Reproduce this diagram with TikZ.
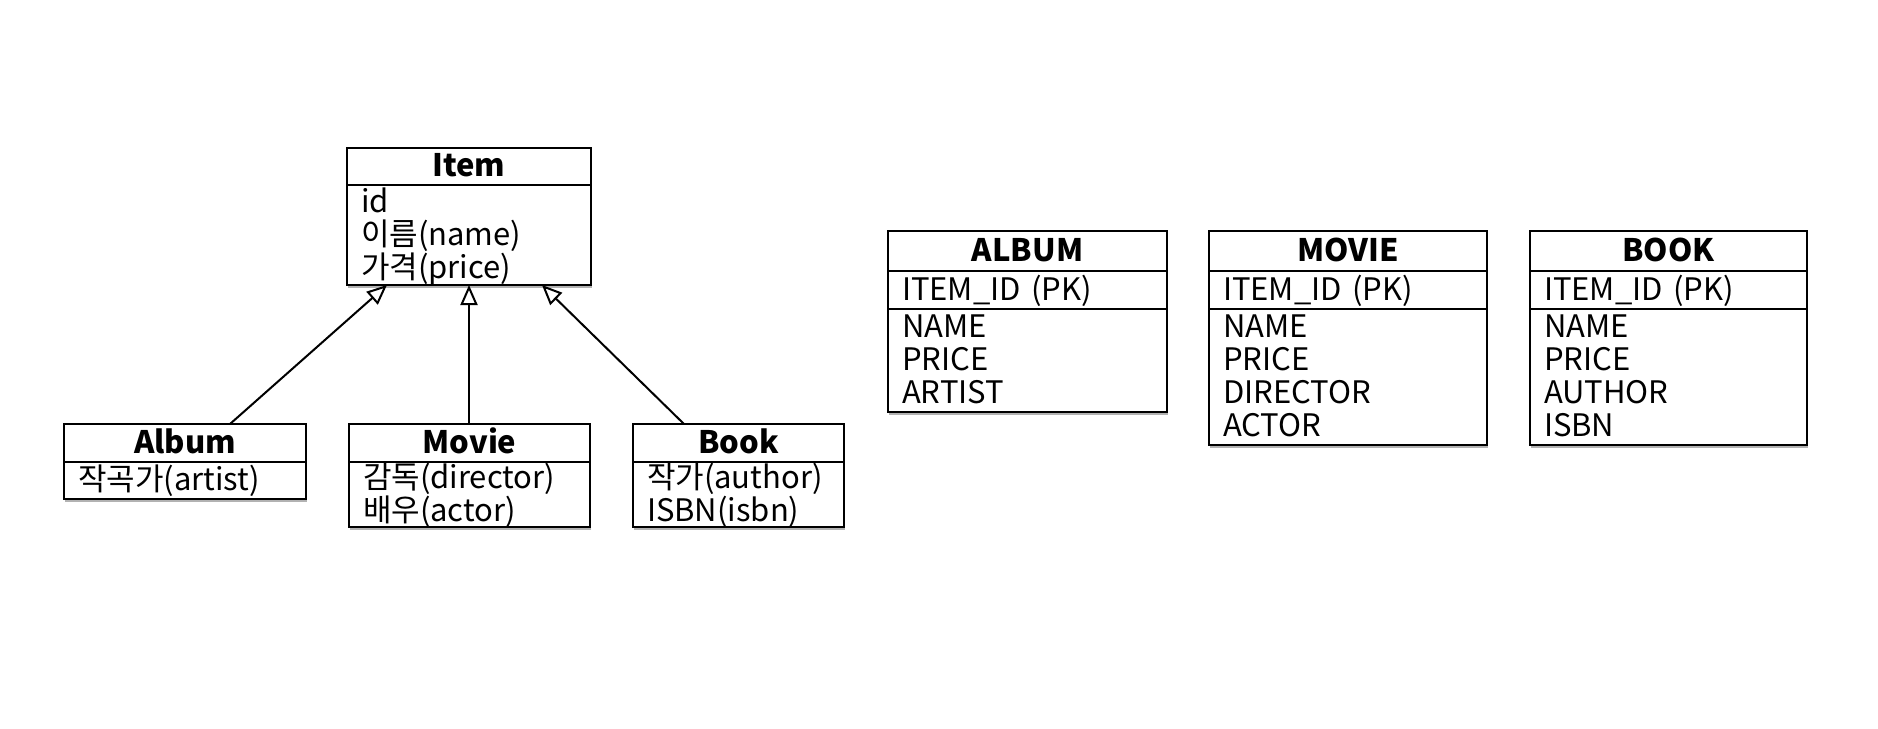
\documentclass[tikz,border=0pt]{standalone}
\usepackage{fontspec}
\setmainfont{Noto Sans CJK KR}
\usetikzlibrary{arrows.meta,shadows}
\newcommand\topst{\rule{0pt}{14.5pt}}
\newcommand\botst{\rule[-4.3pt]{0pt}{4.3pt}}
\tikzset{
  box/.style={draw=black, line width=1.2pt, fill=white, inner xsep=7pt, inner ysep=-3pt, outer sep=0pt,
    anchor=north west, font=\fontsize{15.5}{16.5}\selectfont,
    execute at begin node={\topst}, execute at end node={\botst},
    drop shadow={shadow xshift=0.6pt, shadow yshift=-1.5pt, opacity=0.3, fill=black}},
  hd/.style={box, align=center, font=\bfseries\fontsize{15.5}{16.5}\selectfont},
  bd/.style={box, align=left},
  gen/.style={line width=1pt, -{Triangle[open, fill=white, length=10pt, width=8.5pt]}}
}
\begin{document}
\begin{tikzpicture}[x=0.5pt, y=-0.5pt]
\useasboundingbox (0,0) rectangle (1878,728);
% Item class
\node[hd, text width=108pt, minimum height=18.5pt] (itemT) at (347,148) {Item};
\node[bd, text width=108pt, minimum height=50pt] (itemB) at (itemT.south west) {id\\이름(name)\\가격(price)};
% Album class
\node[hd, text width=107pt, minimum height=19pt] (albumT) at (64,424) {Album};
\node[bd, text width=107pt, minimum height=18.5pt] (albumB) at (albumT.south west) {작곡가(artist)};
% Movie class
\node[hd, text width=106.5pt, minimum height=19pt] (movieT) at (349,424) {Movie};
\node[bd, text width=106.5pt, minimum height=32.5pt] (movieB) at (movieT.south west) {감독(director)\\배우(actor)};
% Book class
\node[hd, text width=91.5pt, minimum height=19pt] (bookT) at (633,424) {Book};
\node[bd, text width=91.5pt, minimum height=32.5pt] (bookB) at (bookT.south west) {작가(author)\\ISBN(isbn)};
% connectors
\coordinate (xa1) at (230,0);
\coordinate (xa2) at (387,0);
\coordinate (xm) at (469,0);
\coordinate (xb1) at (684,0);
\coordinate (xb2) at (542,0);
\draw[gen] (albumT.north -| xa1) -- (itemB.south -| xa2);
\draw[gen] (movieT.north -| xm) -- (itemB.south -| xm);
\draw[gen] (bookT.north -| xb1) -- (itemB.south -| xb2);
% ALBUM table
\node[hd, text width=125.5pt, minimum height=20pt] (tAlbumT) at (888,231) {ALBUM};
\node[bd, text width=125.5pt, minimum height=19pt] (tAlbumK) at (tAlbumT.south west) {ITEM\_ID (PK)};
\node[bd, text width=125.5pt, minimum height=51.5pt] (tAlbumB) at (tAlbumK.south west) {NAME\\PRICE\\ARTIST};
% MOVIE table
\node[hd, text width=125pt, minimum height=20pt] (tMovieT) at (1209,231) {MOVIE};
\node[bd, text width=125pt, minimum height=19pt] (tMovieK) at (tMovieT.south west) {ITEM\_ID (PK)};
\node[bd, text width=125pt, minimum height=68pt] (tMovieB) at (tMovieK.south west) {NAME\\PRICE\\DIRECTOR\\ACTOR};
% BOOK table
\node[hd, text width=124.5pt, minimum height=20pt] (tBookT) at (1530,231) {BOOK};
\node[bd, text width=124.5pt, minimum height=19pt] (tBookK) at (tBookT.south west) {ITEM\_ID (PK)};
\node[bd, text width=124.5pt, minimum height=68pt] (tBookB) at (tBookK.south west) {NAME\\PRICE\\AUTHOR\\ISBN};
\end{tikzpicture}
\end{document}
